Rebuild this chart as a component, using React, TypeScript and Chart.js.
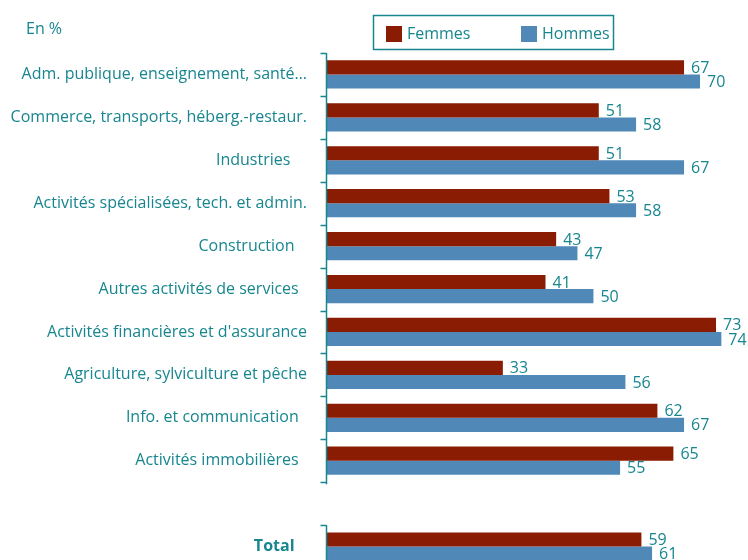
import React, { useEffect, useRef } from "react";
import { Chart, registerables } from "chart.js";

Chart.register(...registerables);

const categories = [
  "Adm. publique, enseignement, santé…",
  "Commerce, transports, héberg.-restaur.",
  "Industries    ",
  "Activités spécialisées, tech. et admin.",
  "Construction   ",
  "Autres activités de services  ",
  "Activités financières et d'assurance",
  "Agriculture, sylviculture et pêche",
  "Info. et communication  ",
  "Activités immobilières  ",
  "",
  "Total   ",
];
const femmes = [67, 51, 51, 53, 43, 41, 73, 33, 62, 65, null, 59];
const hommes = [70, 58, 67, 58, 47, 50, 74, 56, 67, 55, null, 61];
const seriesNames = ["Femmes", "Hommes"];
const unitLabel = "En %";

const TEAL = "#17868f";
const RED = "#8a1c03";
const BLUE = "#5089b8";
const FONT = "'Open Sans', sans-serif";

const decorPlugin = {
  id: "decor",
  afterDatasetsDraw(chart: any) {
    const { ctx, chartArea } = chart;
    const y = chart.scales.y;
    const n = categories.length;
    const band = (chartArea.bottom - chartArea.top) / n;
    const x0 = chartArea.left - 0.5;
    ctx.save();
    ctx.strokeStyle = TEAL;
    ctx.lineWidth = 1.5;
    let i = 0;
    while (i < n) {
      if (categories[i] === "") { i++; continue; }
      let j = i;
      while (j + 1 < n && categories[j + 1] !== "") j++;
      const top = y.getPixelForValue(i) - band / 2;
      const bottom = y.getPixelForValue(j) + band / 2;
      ctx.beginPath();
      ctx.moveTo(x0, top);
      ctx.lineTo(x0, bottom + 2);
      ctx.stroke();
      for (let k = i; k <= j + 1; k++) {
        const ty = Math.round(top + (k - i) * band) + 0.5;
        ctx.beginPath();
        ctx.moveTo(x0 - 6, ty);
        ctx.lineTo(x0, ty);
        ctx.stroke();
      }
      i = j + 1;
    }
    ctx.fillStyle = TEAL;
    ctx.font = `16px ${FONT}`;
    ctx.textAlign = "left";
    ctx.textBaseline = "middle";
    chart.data.datasets.forEach((ds: any, di: number) => {
      const meta = chart.getDatasetMeta(di);
      meta.data.forEach((bar: any, idx: number) => {
        const v = ds.data[idx];
        if (v === null || v === undefined) return;
        ctx.fillText(String(v), bar.x + 7, bar.y + 1);
      });
    });
    ctx.fillText(unitLabel, 26, 29);
    ctx.lineWidth = 1.5;
    ctx.strokeRect(373.5, 15.5, 240, 34);
    const items = [
      { x: 386, color: RED, text: seriesNames[0] },
      { x: 521, color: BLUE, text: seriesNames[1] },
    ];
    items.forEach((it) => {
      ctx.fillStyle = it.color;
      ctx.fillRect(it.x, 26, 16, 16);
      ctx.fillStyle = TEAL;
      ctx.fillText(it.text, it.x + 21, 34);
    });
    ctx.restore();
  },
};

export default function App() {
  const ref = useRef<HTMLCanvasElement | null>(null);
  useEffect(() => {
    if (!ref.current) return;
    const chart = new Chart(ref.current, {
      type: "bar",
      data: {
        labels: categories,
        datasets: [
          { label: seriesNames[0], data: femmes, backgroundColor: RED, borderWidth: 0 },
          { label: seriesNames[1], data: hommes, backgroundColor: BLUE, borderWidth: 0 },
        ],
      },
      options: {
        indexAxis: "y",
        animation: false,
        responsive: false,
        maintainAspectRatio: false,
        datasets: { bar: { categoryPercentage: 0.66, barPercentage: 1 } },
        layout: { padding: { top: 53, left: 0, right: 0, bottom: 0 } },
        plugins: { legend: { display: false }, tooltip: { enabled: false }, title: { display: false } },
        scales: {
          x: { display: false, min: 0, max: 79 },
          y: {
            afterFit: (scale: any) => {
              scale.width = 327;
              scale.paddingTop = 0;
              scale.paddingBottom = 0;
            },
            grid: { display: false, drawTicks: false },
            border: { display: false },
            ticks: {
              autoSkip: false,
              padding: 20,
              color: TEAL,
              font: (c: any) => ({
                family: FONT,
                size: 16,
                weight: c.tick && String(c.tick.label).trim() === "Total" ? "bold" : "normal",
              }),
            },
          },
        },
      },
      plugins: [decorPlugin],
    });
    return () => chart.destroy();
  }, []);
  return (
    <div style={{ position: "fixed", left: 0, top: 0, width: 748, height: 560, overflow: "hidden", background: "#fff" }}>
      <canvas ref={ref} width={748} height={568} style={{ width: 748, height: 568, display: "block" }} />
    </div>
  );
}
